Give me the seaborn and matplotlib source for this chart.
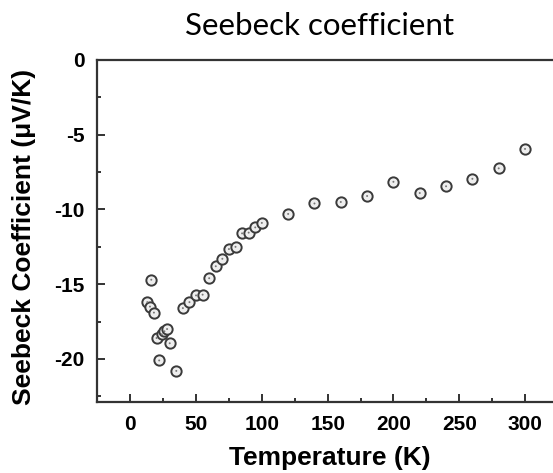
import matplotlib
matplotlib.use("Agg")
import matplotlib.pyplot as plt
import seaborn as sns
import pandas as pd
from matplotlib.ticker import MultipleLocator

temperature = [13, 15, 16, 18, 20, 22, 24, 26, 28, 30, 35, 40, 45, 50, 55, 60, 65, 70,
               75, 80, 85, 90, 95, 100, 120, 140, 160, 180, 200, 220, 240, 260, 280, 300]
seebeck = [-16.2, -16.5, -14.7, -16.9, -18.6, -20.1, -18.35, -18.15, -18.0, -18.95, -20.8,
           -16.6, -16.2, -15.75, -15.7, -14.6, -13.8, -13.3, -12.65, -12.5, -11.6, -11.55,
           -11.2, -10.9, -10.3, -9.6, -9.5, -9.1, -8.15, -8.9, -8.45, -7.95, -7.25, -5.95]

df = pd.DataFrame({"T": temperature, "S": seebeck})

sns.set_theme(style="white")
plt.rcParams["font.family"] = ["Liberation Sans", "DejaVu Sans"]
plt.rcParams["axes.unicode_minus"] = False

fig = plt.figure(figsize=(5.53, 4.73), dpi=100)
ax = fig.add_axes([0.176, 0.1495, 0.8686, 0.7237])

sns.scatterplot(data=df, x="T", y="S", ax=ax, marker="o", s=55,
                facecolor="#eeeeee", edgecolor="#3a3a3a", linewidth=1.4, zorder=3)
sns.scatterplot(data=df, x="T", y="S", ax=ax, marker="o", s=2,
                color="#777777", edgecolor="none", linewidth=0, zorder=4)

ax.set_xlim(-25, 340)
ax.set_ylim(-22.9, 0)
ax.xaxis.set_major_locator(MultipleLocator(50))
ax.xaxis.set_minor_locator(MultipleLocator(25))
ax.yaxis.set_major_locator(MultipleLocator(5))
ax.yaxis.set_minor_locator(MultipleLocator(2.5))
ax.tick_params(which="both", direction="in", bottom=True, left=True, top=False, right=False,
               colors="#222222", width=1.3)
ax.tick_params(which="major", length=6, labelsize=15, pad=9)
ax.tick_params(which="minor", length=3)
for lab in ax.get_xticklabels() + ax.get_yticklabels():
    lab.set_fontweight("bold")
    lab.set_color("black")
for sp in ax.spines.values():
    sp.set_linewidth(1.6)
    sp.set_color("#333333")

ax.set_xlabel("Temperature (K)", fontsize=19, fontweight="bold", color="black")
ax.set_ylabel("Seebeck Coefficient (\u03bcV/K)", fontsize=19, fontweight="bold", color="black")
ax.xaxis.set_label_coords(0.483, -0.128)
ax.yaxis.set_label_coords(-0.127, 0.484)

fig.text(0.578, 0.945, "Seebeck coefficient", fontsize=22.5, family=["Lato", "DejaVu Sans"],
         ha="center", va="center", color="black")

fig.savefig("out.png", dpi=100)
